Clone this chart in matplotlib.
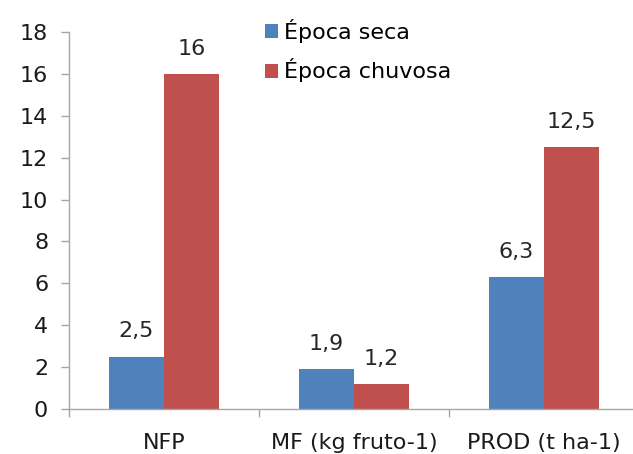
import numpy as np
import matplotlib.pyplot as plt

plt.rcParams['font.family'] = ['DejaVu Sans']

categories = ['NFP', 'MF (kg fruto-1)', 'PROD (t ha-1)']
seca = [2.5, 1.9, 6.3]
chuvosa = [16, 1.2, 12.5]
series_names = ['Época seca', 'Época chuvosa']

blue = '#4F81BD'
red = '#C0504D'
axis_gray = '#A6A6A6'
fs = 16

fig = plt.figure(figsize=(6.33, 4.54), dpi=100)
ax = fig.add_axes([69 / 633, 45 / 454, 564 / 633, 377 / 454])

x = np.arange(len(categories))
w = 0.29
b1 = ax.bar(x - w / 2, seca, w, color=blue, label=series_names[0])
b2 = ax.bar(x + w / 2, chuvosa, w, color=red, label=series_names[1])

def fmt(v):
    return (f'{v:g}').replace('.', ',')

for bars, vals in ((b1, seca), (b2, chuvosa)):
    for rect, v in zip(bars, vals):
        ax.annotate(fmt(v), (rect.get_x() + rect.get_width() / 2, v),
                    xytext=(0, 11), textcoords='offset points',
                    ha='center', va='bottom', fontsize=fs, color='#262626')

ax.set_ylim(0, 18)
ax.set_yticks(np.arange(0, 19, 2))
ax.set_xlim(-0.5, 2.47)
ax.set_xticks(x)
ax.set_xticklabels(categories)
ax.set_xticks([-0.5, 0.5, 1.5], minor=True)
ax.tick_params(axis='x', which='major', length=0, pad=17, labelsize=fs, labelcolor='#1a1a1a')
ax.tick_params(axis='x', which='minor', length=6, color=axis_gray, width=1)
ax.tick_params(axis='y', length=6, color=axis_gray, width=1, pad=9,
               labelsize=fs, labelcolor='#1a1a1a')

for side in ('top', 'right'):
    ax.spines[side].set_visible(False)
for side in ('left', 'bottom'):
    ax.spines[side].set_color(axis_gray)
    ax.spines[side].set_linewidth(1)

ax.legend(loc='upper left', bbox_to_anchor=(246 / 633, 1.0), bbox_transform=fig.transFigure,
          frameon=False, fontsize=fs, handlelength=0.6, handleheight=0.6,
          handletextpad=0.25, labelspacing=0.7, borderpad=0.35)

fig.savefig('out.png', dpi=100)
